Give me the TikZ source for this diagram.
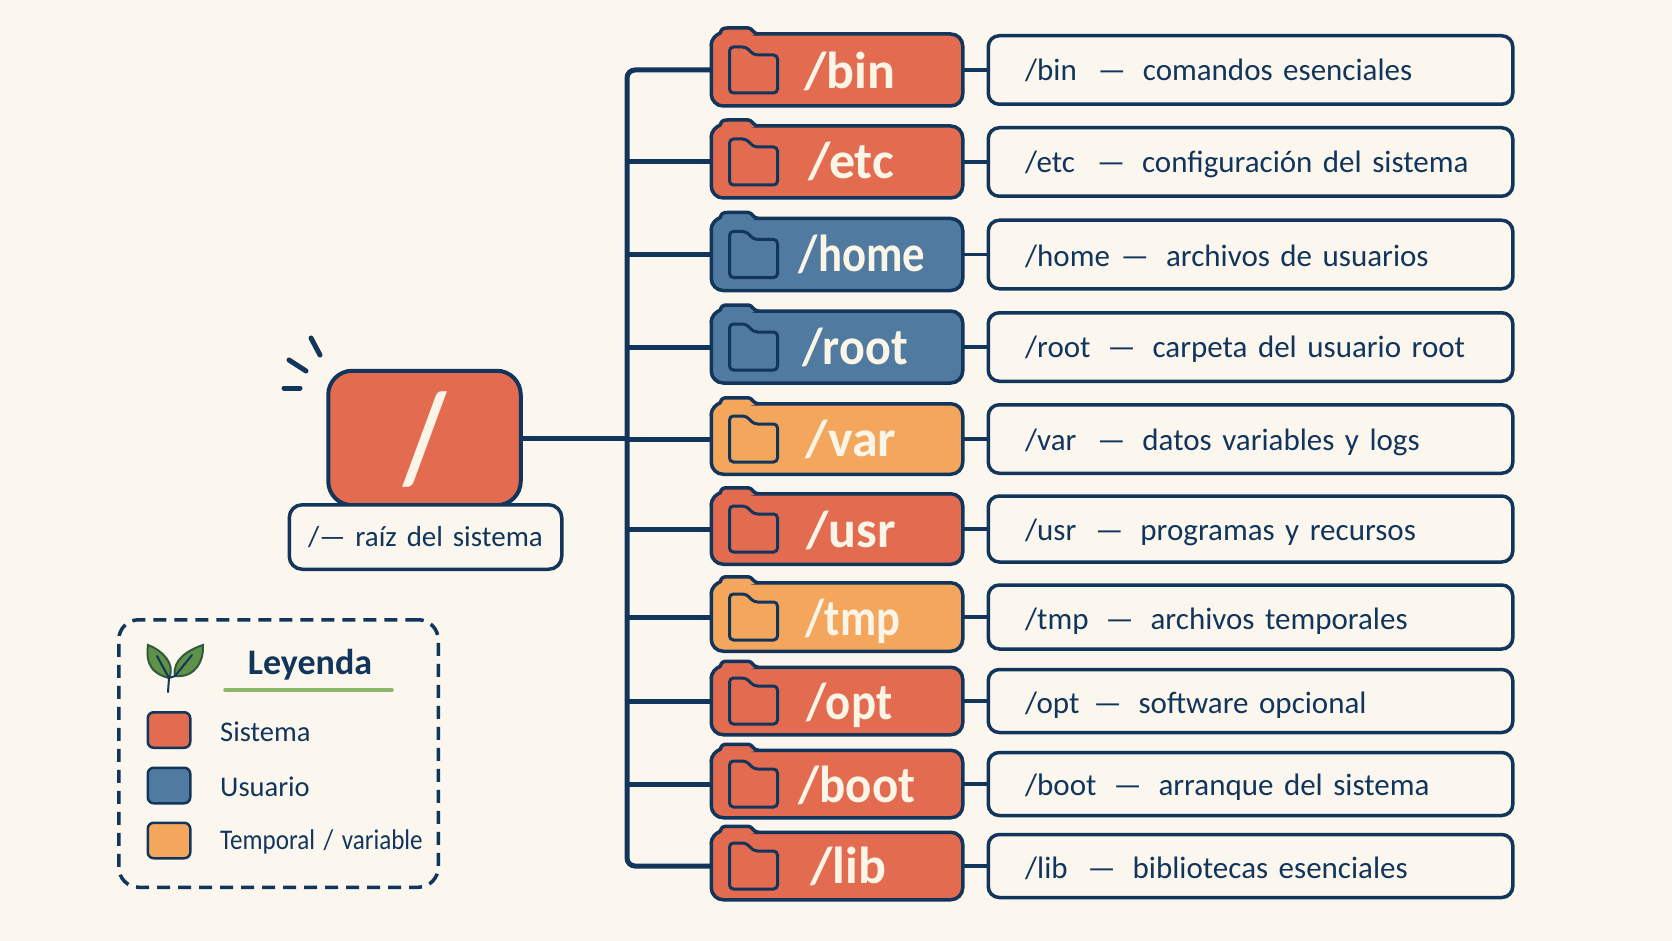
\documentclass[tikz,border=0pt]{standalone}
\usepackage{fontspec}
\setmainfont{Carlito}[WordSpace=1.5]
\definecolor{paper}{HTML}{FBF7EE}
\definecolor{navy}{HTML}{12355B}
\definecolor{sysred}{HTML}{E26B50}
\definecolor{userblue}{HTML}{507A9F}
\definecolor{temporange}{HTML}{F3A65C}
\definecolor{cream}{HTML}{FBF5E8}
\definecolor{leafgreen}{HTML}{5F9148}
\definecolor{leafline}{HTML}{2F5A3E}
\definecolor{linegreen}{HTML}{8DB56B}
\newcommand{\dashgap}{\hspace{17pt}—\hspace{17pt}}
\tikzset{
    foldbox/.style={draw=navy, line width=3.5pt, rounded corners=12pt, minimum width=251.5pt, minimum height=72pt, inner sep=0pt, outer sep=0pt},
    descbox/.style={draw=navy, fill=paper, line width=3.5pt, rounded corners=11pt, minimum width=524.5pt, minimum height=68.5pt, inner sep=0pt, outer sep=0pt},
    foldtext/.style={text=cream, font=\fontsize{52}{60}\selectfont\bfseries, inner sep=0pt, text height=36pt, text depth=0pt},
    desctext/.style={text=navy, font=\fontsize{31}{36}\selectfont, inner sep=0pt, anchor=west, text height=20pt, text depth=0pt},
    wire/.style={draw=navy, line width=5pt},
    thinwire/.style={draw=navy, line width=3.5pt},
    tabstyle/.style={draw=navy, line width=3.5pt, line join=round},
    swatch/.style={draw=navy, line width=2.5pt, rounded corners=6pt, minimum width=42.5pt, minimum height=35.5pt, inner sep=0pt, outer sep=0pt},
    legendtext/.style={text=navy, font=\fontsize{28.5}{34}\selectfont, inner sep=0pt, anchor=west},
    foldertab/.pic={
        \path[pic actions] (0,12) .. controls (0,4) and (5,1) .. (9,-1) .. controls (10,-5) and (12,-6) .. (16,-6)
            -- (37,-6) .. controls (41,-6) and (42,0) .. (47,0);
    },
    foldericon/.pic={
        \draw[navy, line width=3pt, rounded corners=4pt] (-24,23) -- (-24,-23) -- (-7,-23)
            -- (0,-15) -- (24,-15) -- (24,23) -- cycle;
    },
}
\begin{document}
\begin{tikzpicture}[x=1pt, y=-1pt]
    % background
    \fill[paper] (0,0) rectangle (1672,941);
    \useasboundingbox (0,0) rectangle (1672,941);

    % directory boxes
    \node[foldbox, fill=sysred] (binbox) at (837,70) {};
    \node[foldbox, fill=sysred] (etcbox) at (837,162) {};
    \node[foldbox, fill=userblue] (homebox) at (837,254.5) {};
    \node[foldbox, fill=userblue] (rootbox) at (837,347) {};
    \node[foldbox, fill=temporange, minimum height=70.5pt] (varbox) at (837,439) {};
    \node[foldbox, fill=sysred, minimum height=70.5pt] (usrbox) at (837,529) {};
    \node[foldbox, fill=temporange, minimum height=68.5pt] (tmpbox) at (837,617) {};
    \node[foldbox, fill=sysred, minimum height=67.5pt] (optbox) at (837,701) {};
    \node[foldbox, fill=sysred, minimum height=67.5pt] (bootbox) at (837,784) {};
    \node[foldbox, fill=sysred, minimum height=67.5pt] (libbox) at (837,866) {};

    % folder tabs
    \pic[tabstyle, fill=sysred] at (binbox.north west) {foldertab};
    \pic[tabstyle, fill=sysred] at (etcbox.north west) {foldertab};
    \pic[tabstyle, fill=userblue] at (homebox.north west) {foldertab};
    \pic[tabstyle, fill=userblue] at (rootbox.north west) {foldertab};
    \pic[tabstyle, fill=temporange] at (varbox.north west) {foldertab};
    \pic[tabstyle, fill=sysred] at (usrbox.north west) {foldertab};
    \pic[tabstyle, fill=temporange] at (tmpbox.north west) {foldertab};
    \pic[tabstyle, fill=sysred] at (optbox.north west) {foldertab};
    \pic[tabstyle, fill=sysred] at (bootbox.north west) {foldertab};
    \pic[tabstyle, fill=sysred] at (libbox.north west) {foldertab};

    % folder icons
    \pic at ([xshift=42.25pt]binbox.west) {foldericon};
    \pic at ([xshift=42.25pt]etcbox.west) {foldericon};
    \pic at ([xshift=42.25pt]homebox.west) {foldericon};
    \pic at ([xshift=42.25pt]rootbox.west) {foldericon};
    \pic at ([xshift=42.25pt]varbox.west) {foldericon};
    \pic at ([xshift=42.25pt]usrbox.west) {foldericon};
    \pic at ([xshift=42.25pt]tmpbox.west) {foldericon};
    \pic at ([xshift=42.25pt]optbox.west) {foldericon};
    \pic at ([xshift=42.25pt]bootbox.west) {foldericon};
    \pic at ([xshift=42.25pt]libbox.west) {foldericon};

    % directory names
    \node[foldtext] (bintext) at (850,71) {/bin};
    \node[foldtext] (etctext) at (851,161) {/etc};
    \node[foldtext] (hometext) at (862,254) {\scalebox{.86}[1]{/home}};
    \node[foldtext] (roottext) at (855,346) {\scalebox{.925}[1]{/root}};
    \node[foldtext] (vartext) at (851,438) {/var};
    \node[foldtext] (usrtext) at (851,529) {/usr};
    \node[foldtext] (tmptext) at (853,617) {\scalebox{.855}[1]{/tmp}};
    \node[foldtext] (opttext) at (849.5,701) {\scalebox{.9}[1]{/opt}};
    \node[foldtext] (boottext) at (857,784) {\scalebox{.94}[1]{/boot}};
    \node[foldtext] (libtext) at (848,865) {/lib};

    % description boxes
    \node[descbox] (bindesc) at (1250.5,70) {};
    \node[descbox] (etcdesc) at (1250.5,162) {};
    \node[descbox] (homedesc) at (1250.5,254.5) {};
    \node[descbox] (rootdesc) at (1250.5,347) {};
    \node[descbox] (vardesc) at (1250.5,439) {};
    \node[descbox, minimum height=66pt] (usrdesc) at (1250.5,529) {};
    \node[descbox, minimum height=64pt] (tmpdesc) at (1250.5,617) {};
    \node[descbox, minimum height=63pt] (optdesc) at (1250.5,701) {};
    \node[descbox, minimum height=63pt] (bootdesc) at (1250.5,784) {};
    \node[descbox, minimum height=63pt] (libdesc) at (1250.5,866) {};

    % description texts
    \node[desctext] (bintxt) at (1025,71) {/bin\hspace{4pt}\dashgap comandos esenciales};
    \node[desctext] (etctxt) at (1025,163) {/etc\hspace{5pt}\dashgap configuración del sistema};
    \node[desctext] (hometxt) at (1025,256) {/home\hspace{-6pt}\dashgap archivos de usuarios};
    \node[desctext] (roottxt) at (1025,347) {/root\dashgap carpeta del usuario root};
    \node[desctext] (vartxt) at (1025,440) {/var\hspace{4pt}\dashgap datos variables y logs};
    \node[desctext] (usrtxt) at (1025,530) {/usr\hspace{2pt}\dashgap programas y recursos};
    \node[desctext] (tmptxt) at (1025,619) {/tmp\dashgap archivos temporales};
    \node[desctext] (opttxt) at (1025,703) {/opt\hspace{-3pt}\dashgap software opcional};
    \node[desctext] (boottxt) at (1025,785) {/boot\dashgap arranque del sistema};
    \node[desctext] (libtxt) at (1025,868) {/lib\hspace{3pt}\dashgap bibliotecas esenciales};

    % root folder
    \node[draw=navy, fill=sysred, line width=4pt, rounded corners=24pt, minimum width=192.5pt, minimum height=134.5pt, inner sep=0pt, outer sep=0pt] (slashbox) at (424.5,438) {};
    \node[text=cream, font=\fontsize{100}{110}\selectfont\bfseries, inner sep=0pt] (slashtext) at (425,439.5) {\scalebox{1}[1.28]{/}};
    \node[draw=navy, fill=paper, line width=3.5pt, rounded corners=13pt, minimum width=272.5pt, minimum height=64.5pt, inner sep=0pt, outer sep=0pt, text=navy, font=\fontsize{29}{36}\selectfont] (slashlabel) at (425.5,537) {/— raíz del sistema};

    % root sparks
    \draw[navy, line width=5pt, line cap=round] (311,338) -- (320,355);
    \draw[navy, line width=5pt, line cap=round] (289,360) -- (306,371);
    \draw[navy, line width=5pt, line cap=round] (284,388) -- (300,388);

    % tree lines
    \coordinate (treejoin) at (627,438);
    \draw[wire] (slashbox.east) -- (treejoin);
    \draw[wire, rounded corners=8pt] (binbox.west) -- (binbox.west -| treejoin) -- (libbox.west -| treejoin) -- (libbox.west);
    \draw[wire] (etcbox.west) -- (etcbox.west -| treejoin);
    \draw[wire] (homebox.west) -- (homebox.west -| treejoin);
    \draw[wire] (rootbox.west) -- (rootbox.west -| treejoin);
    \draw[wire] (varbox.west) -- (varbox.west -| treejoin);
    \draw[wire] (usrbox.west) -- (usrbox.west -| treejoin);
    \draw[wire] (tmpbox.west) -- (tmpbox.west -| treejoin);
    \draw[wire] (optbox.west) -- (optbox.west -| treejoin);
    \draw[wire] (bootbox.west) -- (bootbox.west -| treejoin);

    % box to description
    \draw[thinwire] (binbox.east) -- (bindesc.west);
    \draw[thinwire] (etcbox.east) -- (etcdesc.west);
    \draw[thinwire] (homebox.east) -- (homedesc.west);
    \draw[thinwire] (rootbox.east) -- (rootdesc.west);
    \draw[thinwire] (varbox.east) -- (vardesc.west);
    \draw[thinwire] (usrbox.east) -- (usrdesc.west);
    \draw[thinwire] (tmpbox.east) -- (tmpdesc.west);
    \draw[thinwire] (optbox.east) -- (optdesc.west);
    \draw[thinwire] (bootbox.east) -- (bootdesc.west);
    \draw[thinwire] (libbox.east) -- (libdesc.west);

    % legend
    \node[draw=navy, line width=3.5pt, dash pattern=on 13pt off 8pt, rounded corners=20pt, minimum width=319.5pt, minimum height=267.5pt, inner sep=0pt] (legendbox) at (278.5,753.5) {};
    \node[text=navy, font=\fontsize{36}{42}\selectfont\bfseries, inner sep=0pt] (legendtitle) at (310,665) {Leyenda};
    \draw[linegreen, line width=3.5pt, line cap=round] (225,690) -- (392,690);
    \node[swatch, fill=sysred] (sysswatch) at (169,730) {};
    \node[swatch, fill=userblue] (userswatch) at (169,785.5) {};
    \node[swatch, fill=temporange] (tempswatch) at (169,840.5) {};
    \node[legendtext] (systext) at (220,732) {Sistema};
    \node[legendtext] (usertext) at (220,787) {Usuario};
    \node[legendtext] (temptext) at (220,842) {\scalebox{.88}[1]{Temporal / variable}};

    % leaves
    \draw[leafline, line width=2pt, fill=leafgreen] (169,678) .. controls (145,672) and (147,655) .. (148,645) .. controls (162,650) and (176,664) .. cycle;
    \draw[leafline, line width=2pt, fill=leafgreen] (175,676) .. controls (172,660) and (188,650) .. (203,645) .. controls (204,660) and (196,678) .. cycle;
    \draw[navy, line width=2pt, line cap=round] (168,692) -- (169,678) -- (157,656);
    \draw[navy, line width=2pt, line cap=round] (169,678) -- (175,676) -- (192,655);
\end{tikzpicture}
\end{document}
